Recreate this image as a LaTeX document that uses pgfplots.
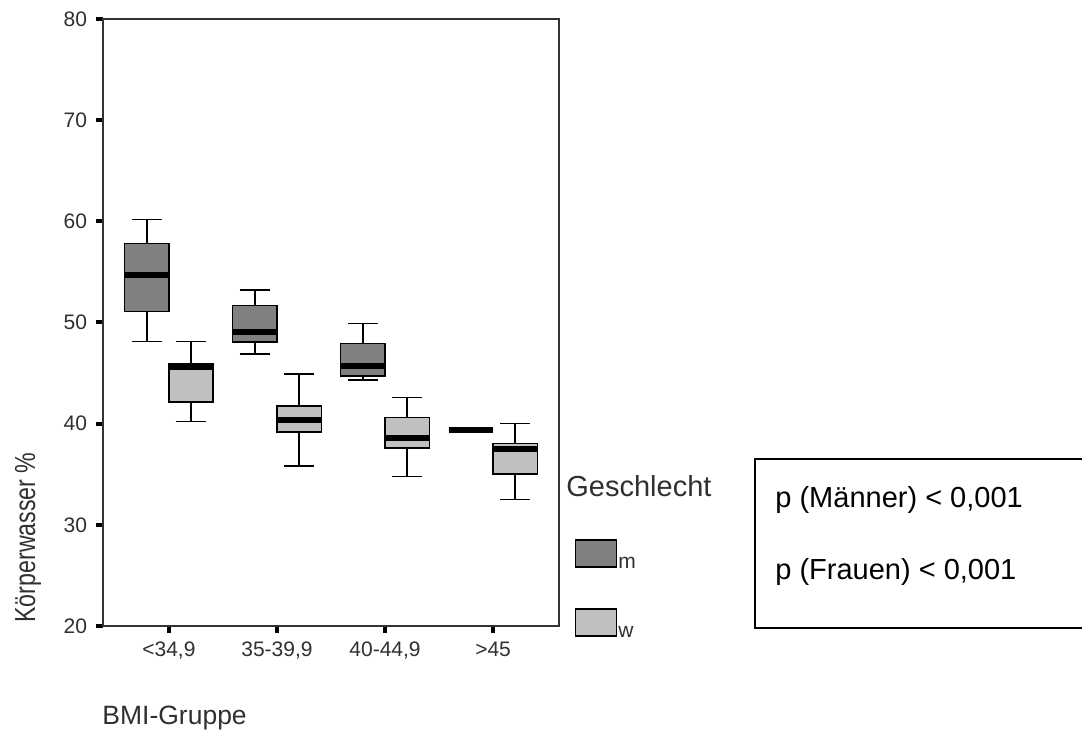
\documentclass[border=0pt]{standalone}
\usepackage{fontspec}
\setmainfont{Liberation Sans}
\usepackage{pgfplots}
\pgfplotsset{compat=1.18}
\usepgfplotslibrary{statistics}

\definecolor{mgray}{HTML}{808080}
\definecolor{wgray}{HTML}{C0C0C0}
\definecolor{txt}{HTML}{303030}

\begin{document}
\begin{tikzpicture}
\useasboundingbox (0,0) rectangle (541pt,367pt);
\begin{axis}[
    at={(51.5pt,54pt)}, anchor=south west,
    scale only axis,
    width=228pt, height=303.5pt,
    xmin=0.39, xmax=4.61,
    ymin=20, ymax=80,
    ytick={20,30,...,80},
    xtick={1,2,3,4},
    xticklabels={{<34,9},{35-39,9},{40-44,9},{>45}},
    xtick pos=bottom, ytick pos=left,
    tick align=outside,
    major tick length=3.5pt,
    tick style={black, line width=2pt},
    axis line style={black!80, line width=0.9pt},
    ticklabel style={font=\fontsize{10.5}{12}\selectfont, text=txt},
    yticklabel style={xshift=-1pt},
    xticklabel style={yshift=-1pt},
    /pgf/number format/assume math mode=true,
    boxplot/draw direction=y,
    boxplot/box extend=0.41,
    boxplot/whisker extend=0.28,
    boxplot/every median/.style={line width=3pt},
    legend image code/.code={\draw[#1] (0pt,0pt) rectangle (20.5pt,13.5pt);},
    legend style={draw=none, fill=none, at={(1.035,0.1433)}, anchor=north west,
        inner sep=0pt, outer sep=0pt, row sep=16pt,
        font=\fontsize{10.5}{12}\selectfont,
        nodes={inner xsep=0.5pt, inner ysep=0pt, text=txt}},
    legend cell align=left,
]
% m (Maenner)
\addplot[forget plot, draw=black, fill=mgray, line width=0.75pt,
    boxplot prepared={draw position=0.795, lower whisker=48.1, lower quartile=51.1,
    median=54.65, upper quartile=57.8, upper whisker=60.2}] coordinates {};
\addplot[forget plot, draw=black, fill=mgray, line width=0.75pt,
    boxplot prepared={draw position=1.795, lower whisker=46.9, lower quartile=48.05,
    median=49.1, upper quartile=51.7, upper whisker=53.2}] coordinates {};
\addplot[forget plot, draw=black, fill=mgray, line width=0.75pt,
    boxplot prepared={draw position=2.795, lower whisker=44.3, lower quartile=44.7,
    median=45.7, upper quartile=47.9, upper whisker=49.9}] coordinates {};
\addplot[forget plot, draw=black, fill=mgray, line width=0.75pt,
    boxplot prepared={draw position=3.795, lower whisker=39.4, lower quartile=39.4,
    median=39.4, upper quartile=39.4, upper whisker=39.4}] coordinates {};
% w (Frauen)
\addplot[forget plot, draw=black, fill=wgray, line width=0.75pt,
    boxplot prepared={draw position=1.205, lower whisker=40.2, lower quartile=42.15,
    median=45.6, upper quartile=45.9, upper whisker=48.1}] coordinates {};
\addplot[forget plot, draw=black, fill=wgray, line width=0.75pt,
    boxplot prepared={draw position=2.205, lower whisker=35.8, lower quartile=39.2,
    median=40.35, upper quartile=41.75, upper whisker=44.9}] coordinates {};
\addplot[forget plot, draw=black, fill=wgray, line width=0.75pt,
    boxplot prepared={draw position=3.205, lower whisker=34.8, lower quartile=37.6,
    median=38.6, upper quartile=40.6, upper whisker=42.6}] coordinates {};
\addplot[forget plot, draw=black, fill=wgray, line width=0.75pt,
    boxplot prepared={draw position=4.205, lower whisker=32.5, lower quartile=35.0,
    median=37.45, upper quartile=38.05, upper whisker=40.0}] coordinates {};

\addlegendimage{draw=black, fill=mgray, line width=0.75pt}
\addlegendentry{\raisebox{2.5pt}{m}}
\addlegendimage{draw=black, fill=wgray, line width=0.75pt}
\addlegendentry{\raisebox{2.5pt}{w}}
\end{axis}

\node[anchor=base west, inner sep=0pt, text=txt, font=\fontsize{14.5}{16}\selectfont]
    at (283pt,118.5pt) {Geschlecht};
\node[anchor=base west, inner sep=0pt, text=txt, font=\fontsize{13.25}{15}\selectfont]
    at (51pt,5pt) {BMI-Gruppe};
\node[anchor=base west, rotate=90, inner sep=0pt, text=txt, font=\fontsize{14.5}{16}\selectfont]
    at (17.5pt,55.5pt) {\scalebox{0.8}[1]{Körperwasser \%}};

\draw[line width=0.75pt] (377.5pt,53pt) rectangle (546pt,137.5pt);
\node[anchor=base west, inner sep=0pt, font=\fontsize{14.5}{16}\selectfont]
    at (387.5pt,113pt) {p (Männer) < 0,001};
\node[anchor=base west, inner sep=0pt, font=\fontsize{14.5}{16}\selectfont]
    at (387.5pt,77pt) {p (Frauen) < 0,001};
\end{tikzpicture}
\end{document}
